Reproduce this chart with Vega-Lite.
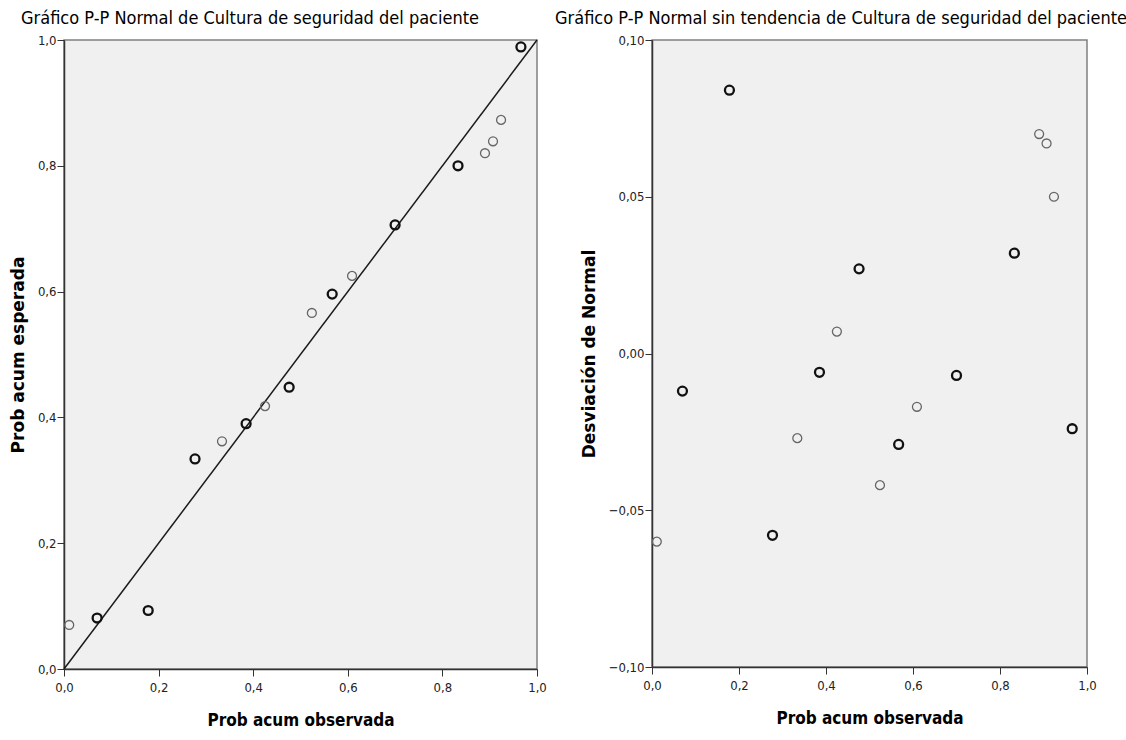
{
  "$schema": "https://vega.github.io/schema/vega-lite/v6.json",
  "background": "white",
  "padding": {"left": 8, "top": 9, "right": 0, "bottom": 0},
  "spacing": 115,
  "bounds": "flush",
  "datasets": {
    "pp": [
      {"obs": 0.011, "esp": 0.070, "dev": -0.060, "repetido": "no"},
      {"obs": 0.070, "esp": 0.081, "dev": -0.012, "repetido": "si"},
      {"obs": 0.178, "esp": 0.093, "dev": 0.084, "repetido": "si"},
      {"obs": 0.277, "esp": 0.334, "dev": -0.058, "repetido": "si"},
      {"obs": 0.334, "esp": 0.362, "dev": -0.027, "repetido": "no"},
      {"obs": 0.385, "esp": 0.390, "dev": -0.006, "repetido": "si"},
      {"obs": 0.425, "esp": 0.418, "dev": 0.007, "repetido": "no"},
      {"obs": 0.476, "esp": 0.448, "dev": 0.027, "repetido": "si"},
      {"obs": 0.524, "esp": 0.566, "dev": -0.042, "repetido": "no"},
      {"obs": 0.567, "esp": 0.596, "dev": -0.029, "repetido": "si"},
      {"obs": 0.609, "esp": 0.625, "dev": -0.017, "repetido": "no"},
      {"obs": 0.700, "esp": 0.706, "dev": -0.007, "repetido": "si"},
      {"obs": 0.833, "esp": 0.800, "dev": 0.032, "repetido": "si"},
      {"obs": 0.890, "esp": 0.820, "dev": 0.070, "repetido": "no"},
      {"obs": 0.907, "esp": 0.839, "dev": 0.067, "repetido": "no"},
      {"obs": 0.924, "esp": 0.873, "dev": 0.050, "repetido": "no"},
      {"obs": 0.966, "esp": 0.989, "dev": -0.024, "repetido": "si"}
    ],
    "diagonal": [
      {"obs": 0, "esp": 0},
      {"obs": 1, "esp": 1}
    ]
  },
  "hconcat": [
    {
      "width": 473,
      "height": 629,
      "title": {
        "text": "Gráfico P-P Normal de Cultura de seguridad del paciente",
        "anchor": "start",
        "frame": "group",
        "dx": -43,
        "offset": 6
      },
      "layer": [
        {
          "data": {"name": "diagonal"},
          "mark": {"type": "line", "color": "#1a1a1a", "strokeWidth": 1.5},
          "encoding": {
            "x": {"field": "obs", "type": "quantitative", "scale": {"domain": [0, 1], "nice": false}},
            "y": {"field": "esp", "type": "quantitative", "scale": {"domain": [0, 1], "nice": false}}
          }
        },
        {
          "data": {"name": "pp"},
          "mark": {"type": "point", "shape": "circle", "filled": false, "size": 80, "opacity": 1},
          "encoding": {
            "x": {
              "field": "obs", "type": "quantitative",
              "scale": {"domain": [0, 1], "nice": false, "zero": false},
              "axis": {"title": "Prob acum observada", "values": [0, 0.2, 0.4, 0.6, 0.8, 1],
                       "labelExpr": "replace(format(datum.value, '.1f'), '.', ',')"}
            },
            "y": {
              "field": "esp", "type": "quantitative",
              "scale": {"domain": [0, 1], "nice": false, "zero": false},
              "axis": {"title": "Prob acum esperada", "values": [0, 0.2, 0.4, 0.6, 0.8, 1],
                       "labelExpr": "replace(format(datum.value, '.1f'), '.', ',')"}
            },
            "color": {"field": "repetido", "type": "nominal",
                      "scale": {"domain": ["si", "no"], "range": ["#111111", "#666666"]}, "legend": null},
            "strokeWidth": {"field": "repetido", "type": "nominal",
                            "scale": {"domain": ["si", "no"], "range": [2.3, 1.3]}, "legend": null}
          }
        }
      ]
    },
    {
      "width": 435,
      "height": 627,
      "title": {
        "text": "Gráfico P-P Normal sin tendencia de Cultura de seguridad del paciente",
        "anchor": "start",
        "frame": "group",
        "dx": -97,
        "offset": 6
      },
      "layer": [
        {
          "mark": {"type": "rule", "color": "#1a1a1a", "strokeWidth": 1.5},
          "encoding": {
            "y": {"datum": 0, "type": "quantitative", "scale": {"domain": [-0.1, 0.1]}}
          }
        },
        {
          "data": {"name": "pp"},
          "mark": {"type": "point", "shape": "circle", "filled": false, "size": 80, "opacity": 1},
          "encoding": {
            "x": {
              "field": "obs", "type": "quantitative",
              "scale": {"domain": [0, 1], "nice": false, "zero": false},
              "axis": {"title": "Prob acum observada", "values": [0, 0.2, 0.4, 0.6, 0.8, 1],
                       "labelExpr": "replace(format(datum.value, '.1f'), '.', ',')"}
            },
            "y": {
              "field": "dev", "type": "quantitative",
              "scale": {"domain": [-0.1, 0.1], "nice": false, "zero": false},
              "axis": {"title": "Desviación de Normal", "values": [-0.1, -0.05, 0, 0.05, 0.1],
                       "labelExpr": "replace(format(datum.value, '.2f'), '.', ',')"}
            },
            "color": {"field": "repetido", "type": "nominal",
                      "scale": {"domain": ["si", "no"], "range": ["#111111", "#666666"]}, "legend": null},
            "strokeWidth": {"field": "repetido", "type": "nominal",
                            "scale": {"domain": ["si", "no"], "range": [2.3, 1.3]}, "legend": null}
          }
        }
      ]
    }
  ],
  "config": {
    "view": {"fill": "#F0F0F0", "stroke": "#808080", "strokeWidth": 1.5},
    "title": {
      "font": "Liberation Sans Narrow, Arial Narrow, DejaVu Sans Condensed, sans-serif",
      "fontSize": 18,
      "fontWeight": "normal",
      "color": "#000000"
    },
    "axis": {
      "grid": false,
      "domainColor": "#333333",
      "domainWidth": 1.5,
      "tickColor": "#333333",
      "tickSize": 7,
      "tickWidth": 1,
      "labelFlush": false,
      "labelOverlap": false,
      "labelFont": "Liberation Sans Narrow, Arial Narrow, DejaVu Sans Condensed, sans-serif",
      "labelFontSize": 13,
      "labelColor": "#222222",
      "labelPadding": 1,
      "titleColor": "#000000"
    },
    "axisX": {
      "labelPadding": 5,
      "titleFont": "Liberation Sans Narrow, Arial Narrow, DejaVu Sans Condensed, sans-serif",
      "titleFontSize": 17,
      "titleFontWeight": "bold",
      "titlePadding": 18
    },
    "axisY": {
      "titleFont": "DejaVu Sans, sans-serif",
      "titleFontSize": 17,
      "titleFontWeight": "bold",
      "titlePadding": 10
    }
  }
}
